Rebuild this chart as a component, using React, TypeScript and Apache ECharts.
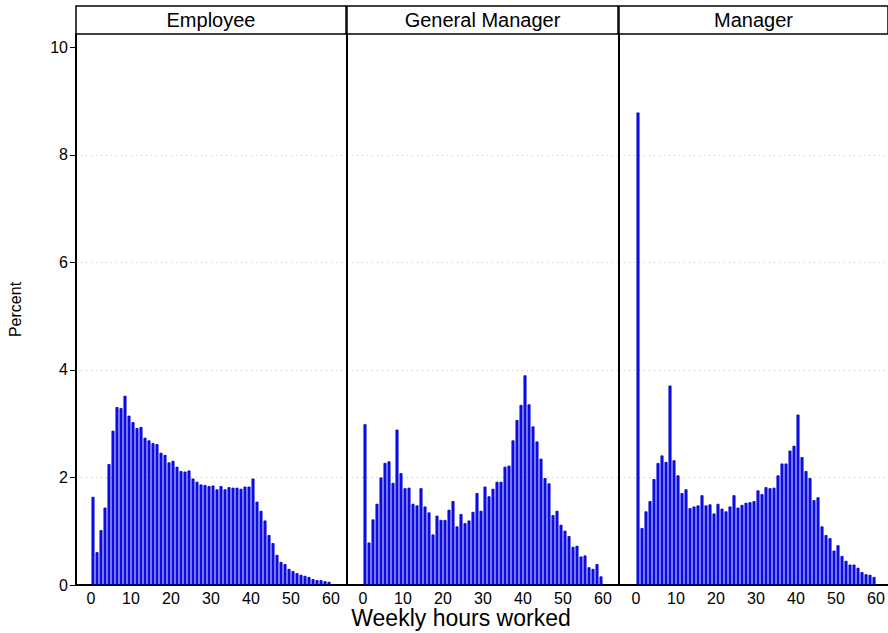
import React, { useEffect, useRef } from 'react';
import * as echarts from 'echarts';

const panelTitles = ['Employee', 'General Manager', 'Manager'];

// Histogram bins: hours [k, k+1), k = 0..59 ; values are percent
const employee = [
  1.64, 0.61, 1.02, 1.44, 2.25, 2.87, 3.31, 3.29, 3.52, 3.15,
  3.03, 2.92, 2.94, 2.74, 2.69, 2.64, 2.62, 2.46, 2.42, 2.28,
  2.31, 2.20, 2.12, 2.11, 2.13, 1.98, 1.92, 1.87, 1.86, 1.84,
  1.85, 1.78, 1.84, 1.78, 1.82, 1.81, 1.81, 1.79, 1.83, 1.83,
  1.98, 1.55, 1.38, 1.20, 0.93, 0.78, 0.56, 0.43, 0.39, 0.30,
  0.26, 0.22, 0.19, 0.17, 0.15, 0.11, 0.09, 0.09, 0.07, 0.06,
];
const generalManager = [
  2.99, 0.79, 1.22, 1.51, 2.00, 2.27, 2.30, 1.90, 2.89, 2.08,
  1.80, 1.81, 1.51, 1.48, 1.80, 1.46, 1.35, 0.94, 1.29, 1.21,
  1.21, 1.40, 1.56, 1.09, 1.32, 1.15, 1.20, 1.36, 1.71, 1.38,
  1.83, 1.65, 1.79, 1.92, 1.92, 2.20, 2.22, 2.69, 3.07, 3.35,
  3.90, 3.36, 2.95, 2.67, 2.35, 1.99, 1.89, 1.30, 1.38, 1.12,
  1.01, 0.91, 0.71, 0.73, 0.53, 0.55, 0.33, 0.30, 0.39, 0.16,
];
const manager = [
  8.79, 1.06, 1.37, 1.56, 1.97, 2.27, 2.41, 2.29, 3.71, 2.32,
  2.04, 1.71, 1.78, 1.43, 1.46, 1.48, 1.67, 1.48, 1.50, 1.33,
  1.51, 1.42, 1.37, 1.46, 1.67, 1.44, 1.49, 1.53, 1.54, 1.56,
  1.76, 1.69, 1.82, 1.80, 1.81, 2.04, 2.26, 2.26, 2.50, 2.59,
  3.17, 2.38, 2.12, 1.99, 1.58, 1.63, 1.09, 0.93, 0.87, 0.64,
  0.74, 0.54, 0.45, 0.38, 0.38, 0.32, 0.24, 0.20, 0.19, 0.15,
];
const panelValues = [employee, generalManager, manager];

const xTickValues = [0, 10, 20, 30, 40, 50, 60];
const yTickValues = [0, 2, 4, 6, 8, 10];
const gridValues = [2, 4, 6, 8];

const FONT = "'Liberation Sans', Arial, Helvetica, sans-serif";

// layout per panel: left, width, x-min, x-max
const panelLayout = [
  { left: 76, width: 270, min: -3.75, max: 63.75 },
  { left: 347, width: 271, min: -4, max: 63.75 },
  { left: 619, width: 269, min: -4.25, max: 63 },
];
const TOP = 34;
const HEIGHT = 551;

export default function App() {
  const ref = useRef<HTMLDivElement>(null);

  useEffect(() => {
    if (!ref.current) return;
    const chart = echarts.init(ref.current, undefined, { renderer: 'svg' });

    const grids = panelLayout.map((p) => ({
      left: p.left,
      top: TOP,
      width: p.width,
      height: HEIGHT,
      containLabel: false,
    }));

    const xAxes = panelLayout.map((p, i) => ({
      type: 'value',
      gridIndex: i,
      min: p.min,
      max: p.max,
      axisLine: { show: true, onZero: false, lineStyle: { color: '#000', width: 2 } },
      axisTick: { show: false },
      splitLine: { show: false },
      axisLabel: {
        show: true,
        customValues: xTickValues,
        color: '#000',
        fontSize: 16,
        fontFamily: FONT,
        margin: 5,
      },
    }));

    const yAxes = panelLayout.map((_, i) => ({
      type: 'value',
      gridIndex: i,
      min: 0,
      max: 10.25,
      interval: 2,
      axisLine: { show: true, onZero: false, lineStyle: { color: '#000', width: 2 } },
      axisTick: {
        show: i === 0,
        customValues: yTickValues,
        length: 6,
        lineStyle: { color: '#000', width: 1 },
      },
      axisLabel: {
        show: i === 0,
        customValues: yTickValues,
        color: '#000',
        fontSize: 16,
        fontFamily: FONT,
        margin: 8,
      },
      splitLine: { show: false },
      name: i === 0 ? 'Percent' : '',
      nameLocation: 'middle',
      nameGap: 53,
      nameRotate: 90,
      nameTextStyle: { color: '#000', fontSize: 16, fontFamily: FONT },
    }));

    const series = panelValues.map((vals, i) => ({
      type: 'bar',
      xAxisIndex: i,
      yAxisIndex: i,
      barWidth: 3,
      data: vals.map((v, k) => [k + 0.5, v]),
      itemStyle: { color: '#1010ff', borderColor: '#0000c0', borderWidth: 0.8 },
      markLine: {
        silent: true,
        symbol: 'none',
        label: { show: false },
        lineStyle: { color: '#c0c0c0', type: [1, 4], width: 1 },
        data: gridValues.map((g) => ({ yAxis: g })),
        z: 0,
      },
      z: 2,
    }));

    const headers = panelLayout.map((p, i) => ({
      type: 'group',
      children: [
        {
          type: 'rect',
          shape: { x: p.left, y: 6, width: p.width, height: TOP - 6 },
          style: { fill: '#fff', stroke: '#000', lineWidth: 1.5 },
        },
        {
          type: 'text',
          x: p.left + p.width / 2,
          y: 20,
          style: {
            text: panelTitles[i],
            fill: '#000',
            fontSize: 20,
            fontFamily: FONT,
            align: 'center',
            verticalAlign: 'middle',
          },
        },
      ],
    }));

    chart.setOption({
      animation: false,
      backgroundColor: '#fff',
      grid: grids,
      xAxis: xAxes,
      yAxis: yAxes,
      series,
      graphic: [
        ...headers,
        {
          type: 'text',
          x: 461,
          y: 618,
          style: {
            text: 'Weekly hours worked',
            fill: '#000',
            fontSize: 23,
            fontFamily: FONT,
            align: 'center',
            verticalAlign: 'middle',
          },
        },
      ],
    });

    return () => chart.dispose();
  }, []);

  return (
    <div
      ref={ref}
      style={{ position: 'fixed', left: 0, top: 0, width: 888, height: 633, background: '#fff' }}
    />
  );
}
